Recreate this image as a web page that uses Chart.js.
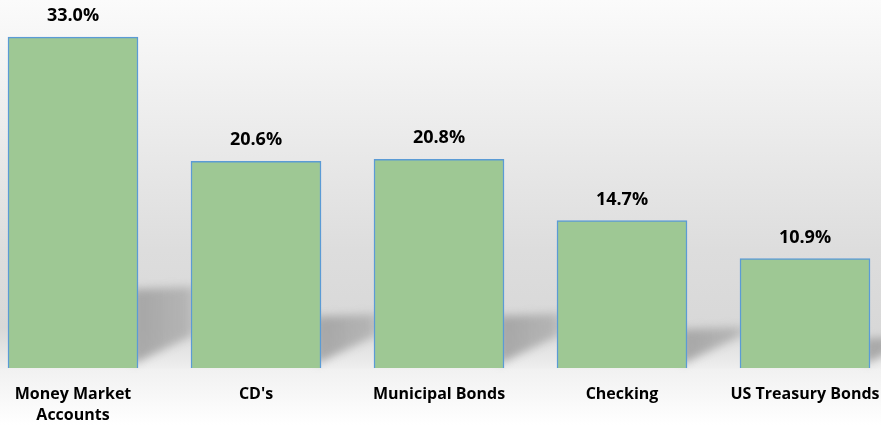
<!DOCTYPE html>
<html lang="en">
<head>
  <meta charset="UTF-8">
  <title>Savings by Account Type</title>
  <script src="https://cdn.jsdelivr.net/npm/chart.js"></script>
  <style>
    body {
      margin: 0;
      background-color: #ffffff;
    }
    .container {
      width: 881px;
      height: 425px;
    }
  </style>
</head>
<body>
  <div class="container">
    <canvas id="barChart" width="881" height="425"></canvas>
  </div>

  <script>
    const categories = [['Money Market', 'Accounts'], "CD's", 'Municipal Bonds', 'Checking', 'US Treasury Bonds'];
    const shares = [33.0, 20.6, 20.8, 14.7, 10.9];

    // page background: light at the top, grey toward the axis
    const backgroundPlugin = {
      id: 'background',
      beforeDraw(chart) {
        const { ctx, width, height, chartArea } = chart;
        const b = chartArea.bottom;
        const grad = ctx.createLinearGradient(0, 0, 0, height);
        grad.addColorStop(0, '#fbfbfb');
        grad.addColorStop(250 / height, '#dddddd');
        grad.addColorStop((b - 40) / height, '#d8d8d8');
        grad.addColorStop(b / height, '#eeeeee');
        grad.addColorStop((b + 1) / height, '#f1f1f1');
        grad.addColorStop(1, '#ffffff');
        ctx.save();
        ctx.fillStyle = grad;
        ctx.fillRect(0, 0, width, height);
        ctx.restore();
      },
      beforeDatasetsDraw(chart) {
        // cast shadow running off to the right of each bar
        const { ctx } = chart;
        const meta = chart.getDatasetMeta(0);
        ctx.save();
        ctx.filter = 'blur(4px)';
        meta.data.forEach(bar => {
          const right = bar.x + bar.width / 2;
          const bottom = bar.base;
          const t = (bottom - bar.y) * 0.22 + 6;
          const grad = ctx.createLinearGradient(right, 0, right + 70, 0);
          grad.addColorStop(0, 'rgba(160,160,160,0.9)');
          grad.addColorStop(0.7, 'rgba(165,165,165,0.7)');
          grad.addColorStop(1, 'rgba(190,190,190,0)');
          ctx.fillStyle = grad;
          ctx.beginPath();
          ctx.moveTo(right - 5, bottom - t);
          ctx.lineTo(right + 70, bottom - t - 3);
          ctx.lineTo(right + 70, bottom - 40);
          ctx.lineTo(right - 5, bottom - 4);
          ctx.closePath();
          ctx.fill();
        });
        ctx.restore();
      },
      afterDatasetsDraw(chart) {
        const { ctx } = chart;
        const meta = chart.getDatasetMeta(0);
        ctx.save();
        ctx.font = 'bold 18px "Open Sans", sans-serif';
        ctx.fillStyle = '#000000';
        ctx.textAlign = 'center';
        ctx.textBaseline = 'alphabetic';
        meta.data.forEach((bar, i) => {
          ctx.fillText(shares[i].toFixed(1) + '%', bar.x, bar.y - 16);
        });
        ctx.restore();
      }
    };

    const ctx = document.getElementById('barChart').getContext('2d');
    new Chart(ctx, {
      type: 'bar',
      data: {
        labels: categories,
        datasets: [{
          data: shares,
          backgroundColor: '#9ec894',
          borderColor: '#5b9bd5',
          borderWidth: 1.5,
          barThickness: 130,
          clip: false
        }]
      },
      options: {
        responsive: false,
        animation: false,
        layout: {
          padding: { top: 7, left: 73, right: 76, bottom: 0 }
        },
        plugins: {
          legend: { display: false },
          tooltip: { enabled: false }
        },
        scales: {
          x: {
            offset: false,
            grid: { display: false, offset: false },
            border: { display: false },
            afterFit(scale) {
              scale.height = 57;
              scale.paddingLeft = 0;
              scale.paddingRight = 0;
            },
            ticks: {
              color: '#000000',
              padding: 8,
              maxRotation: 0,
              autoSkip: false,
              font: { family: '"Open Sans", sans-serif', size: 16, weight: 'bold', lineHeight: 1.3 }
            }
          },
          y: {
            display: false,
            min: 0,
            max: 36
          }
        }
      },
      plugins: [backgroundPlugin]
    });
  </script>
</body>
</html>
